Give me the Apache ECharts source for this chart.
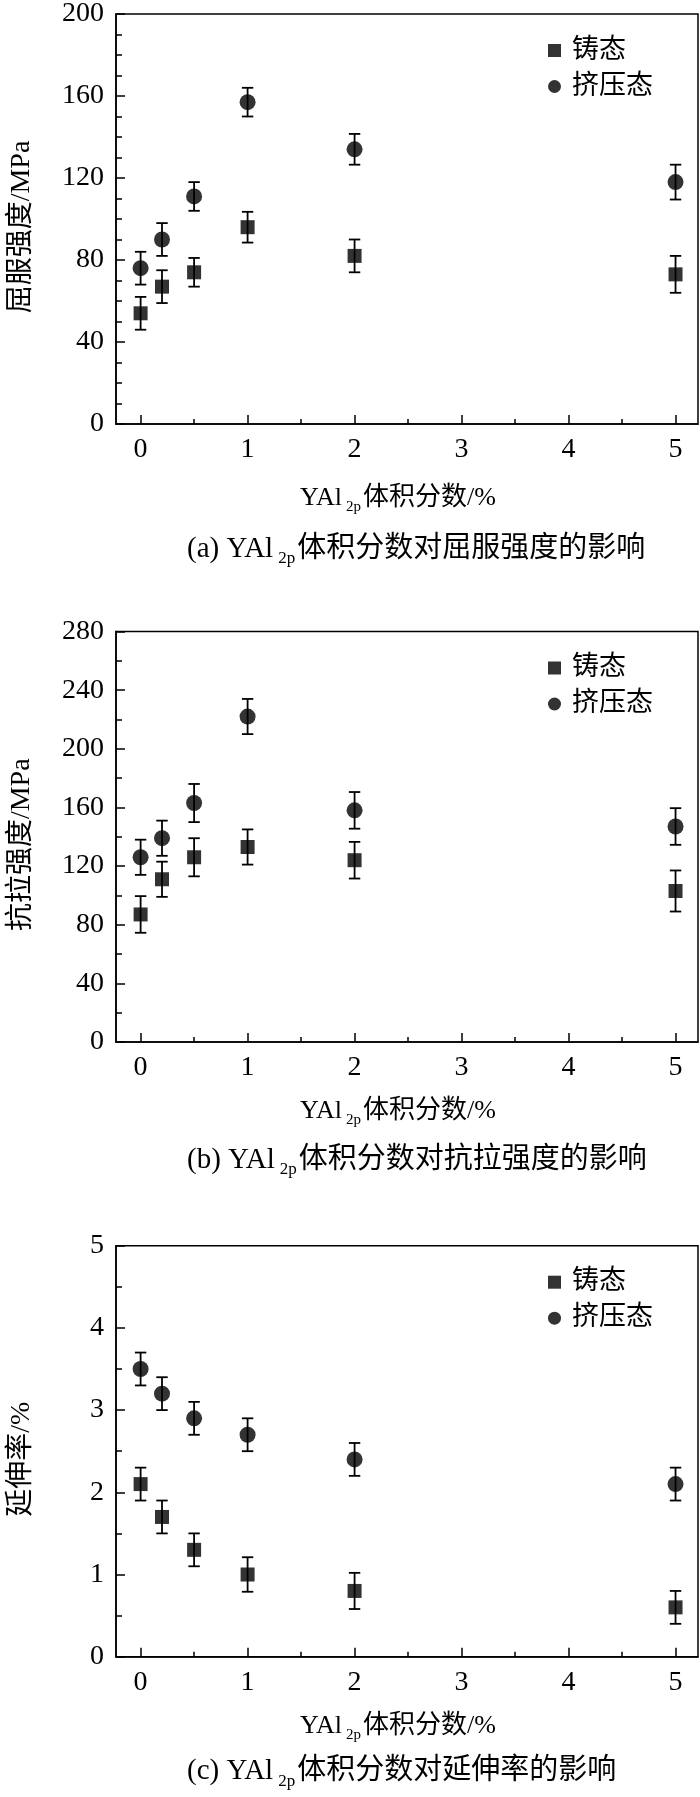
<!DOCTYPE html>
<html>
<head>
<meta charset="utf-8">
<script src="https://cdn.jsdelivr.net/npm/echarts@6/dist/echarts.min.js"></script>
<style>
html,body{margin:0;padding:0;background:#fff;}
#c{width:700px;height:1797px;}
</style>
</head>
<body>
<div id="c"></div>
<script>
// ---- data ----
const xValues = [0, 0.2, 0.5, 1, 2, 5];
const xTicks = [0, 1, 2, 3, 4, 5];
const xMinorTicks = [0.5, 1.5, 2.5, 3.5, 4.5];
const seriesNames = ['铸态', '挤压态'];

const yieldCast = [54, 67, 74, 96, 82, 73];
const yieldCastErr = [8, 8, 7, 7.5, 8, 9];
const yieldExt = [76, 90, 111, 157, 134, 118];
const yieldExtErr = [8, 8, 7, 7, 7.5, 8.5];

const tensileCast = [87, 111, 126, 133, 124, 103];
const tensileCastErr = [12.5, 12, 13, 12, 12.5, 14];
const tensileExt = [126, 139, 163, 222, 158, 147];
const tensileExtErr = [12, 12, 13, 12, 12.5, 12.5];

const elongCast = [2.1, 1.7, 1.3, 1.0, 0.8, 0.6];
const elongCastErr = [0.2, 0.2, 0.2, 0.21, 0.22, 0.2];
const elongExt = [3.5, 3.2, 2.9, 2.7, 2.4, 2.1];
const elongExtErr = [0.2, 0.2, 0.2, 0.2, 0.2, 0.2];

const yNames = ['屈服强度/MPa', '抗拉强度/MPa', '延伸率/%'];
const yMax = [200, 280, 5];
const yInterval = [40, 40, 1];
const yMinorSplit = [4, 2, 2];
const captions = [
  ['(a) YAl', '2p', '体积分数对屈服强度的影响'],
  ['(b) YAl', '2p', '体积分数对抗拉强度的影响'],
  ['(c) YAl', '2p', '体积分数对延伸率的影响']
];
const xNameParts = ['YAl', '2p', '体积分数/%'];

// ---- layout ----
const FONT = "'Liberation Serif', 'Noto Sans CJK SC', serif";
const gridTops = [14, 631.5, 1245.7];
const gridH = [410, 410.5, 411];
const gridLeft = 111, gridRight = 2;
const xMin = -0.23, xMax = 5.21;
const xNameGap = [57, 52, 52];
const captionDy = [125, 118.5, 115];

const nameRich = {
  t: {fontSize: 26, fontFamily: FONT, color: '#000', lineHeight: 34},
  s: {fontSize: 15, fontFamily: FONT, color: '#000', lineHeight: 15, verticalAlign: 'bottom', padding: [0, 2, 0, 4]}
};
const capRich = {
  t: {fontSize: 29, fontFamily: FONT, color: '#000', lineHeight: 36},
  s: {fontSize: 17, fontFamily: FONT, color: '#000', lineHeight: 17, verticalAlign: 'bottom', padding: [0, 2, 0, 5]}
};

const panels = [
  {cast: yieldCast, castErr: yieldCastErr, ext: yieldExt, extErr: yieldExtErr},
  {cast: tensileCast, castErr: tensileCastErr, ext: tensileExt, extErr: tensileExtErr},
  {cast: elongCast, castErr: elongCastErr, ext: elongExt, extErr: elongExtErr}
];

function errRender(params, api) {
  const x = api.value(0), y = api.value(1), e = api.value(2);
  const t = api.coord([x, y + e]);
  const b = api.coord([x, y - e]);
  const hw = 5.7;
  const st = {stroke: '#000', lineWidth: 1.8};
  return {type: 'group', children: [
    {type: 'line', shape: {x1: t[0], y1: t[1], x2: b[0], y2: b[1]}, style: st},
    {type: 'line', shape: {x1: t[0] - hw, y1: t[1], x2: t[0] + hw, y2: t[1]}, style: st},
    {type: 'line', shape: {x1: b[0] - hw, y1: b[1], x2: b[0] + hw, y2: b[1]}, style: st}
  ]};
}

const grid = [], xAxis = [], yAxis = [], series = [], legend = [], graphic = [];
panels.forEach((p, g) => {
  grid.push({left: gridLeft, right: gridRight, top: gridTops[g], height: gridH[g],
    show: true, borderColor: '#000', borderWidth: 1.5, backgroundColor: 'transparent'});
  xAxis.push({
    gridIndex: g, type: 'value', min: xMin, max: xMax, position: 'bottom',
    axisLine: {show: true, onZero: false, lineStyle: {color: '#000', width: 1.5}},
    axisTick: {show: true, inside: true, length: 9, customValues: xTicks, lineStyle: {color: '#000', width: 1.5}},
    axisLabel: {show: true, customValues: xTicks, margin: 12, color: '#000', fontSize: 28, fontFamily: FONT},
    splitLine: {show: false},
    name: '{t|' + xNameParts[0] + '}{s|' + xNameParts[1] + '}{t|' + xNameParts[2] + '}',
    nameLocation: 'middle', nameGap: xNameGap[g],
    nameTextStyle: {rich: nameRich, padding: [0, 18, 0, 0]}
  });
  xAxis.push({
    gridIndex: g, type: 'value', min: xMin, max: xMax, position: 'bottom',
    axisLine: {show: false, onZero: false},
    axisTick: {show: true, inside: true, length: 5, customValues: xMinorTicks, lineStyle: {color: '#000', width: 1.5}},
    axisLabel: {show: false},
    splitLine: {show: false}
  });
  yAxis.push({
    gridIndex: g, type: 'value', min: 0, max: yMax[g], interval: yInterval[g], position: 'left',
    axisLine: {show: true, onZero: false, lineStyle: {color: '#000', width: 1.5}},
    axisTick: {show: true, inside: true, length: 9, lineStyle: {color: '#000', width: 1.5}},
    minorTick: {show: true, splitNumber: yMinorSplit[g], length: 6, lineStyle: {color: '#000', width: 1.5}},
    axisLabel: {margin: 12, color: '#000', fontSize: 28, fontFamily: FONT},
    splitLine: {show: false},
    name: yNames[g], nameLocation: 'middle', nameGap: 80,
    nameTextStyle: {color: '#000', fontSize: 28, fontFamily: FONT, padding: [0, 16, 0, 0]}
  });
  const xi = 2 * g;
  series.push({
    type: 'custom', xAxisIndex: xi, yAxisIndex: g, renderItem: errRender,
    encode: {x: 0, y: 1}, silent: true, z: 2,
    data: xValues.map((x, i) => [x, p.cast[i], p.castErr[i]])
  });
  series.push({
    type: 'custom', xAxisIndex: xi, yAxisIndex: g, renderItem: errRender,
    encode: {x: 0, y: 1}, silent: true, z: 2,
    data: xValues.map((x, i) => [x, p.ext[i], p.extErr[i]])
  });
  series.push({
    name: seriesNames[0], type: 'scatter', xAxisIndex: xi, yAxisIndex: g,
    symbol: 'rect', symbolSize: 14, itemStyle: {color: '#000'}, z: 3,
    data: xValues.map((x, i) => [x, p.cast[i]])
  });
  series.push({
    name: seriesNames[1], type: 'scatter', xAxisIndex: xi, yAxisIndex: g,
    symbol: 'circle', symbolSize: 16, itemStyle: {color: '#000'}, z: 3,
    data: xValues.map((x, i) => [x, p.ext[i]])
  });
  legend.push({
    orient: 'vertical', left: 543, top: gridTops[g] + 18, itemWidth: 13, itemHeight: 13, itemGap: 9,
    selectedMode: false,
    data: [{name: seriesNames[0], icon: 'rect'}, {name: seriesNames[1], icon: 'circle'}],
    textStyle: {color: '#000', fontSize: 27, fontFamily: FONT, padding: [0, 0, 0, 6]}
  });
  graphic.push({
    type: 'text', x: 187, y: gridTops[g] + gridH[g] + captionDy[g],
    style: {
      text: '{t|' + captions[g][0] + '}{s|' + captions[g][1] + '}{t|' + captions[g][2] + '}',
      rich: capRich, align: 'left', verticalAlign: 'middle'
    }
  });
});

const chart = echarts.init(document.getElementById('c'), null, {renderer: 'canvas'});
chart.setOption({
  animation: false,
  backgroundColor: '#fff',
  grid, xAxis, yAxis, series, legend, graphic
});
</script>
</body>
</html>
